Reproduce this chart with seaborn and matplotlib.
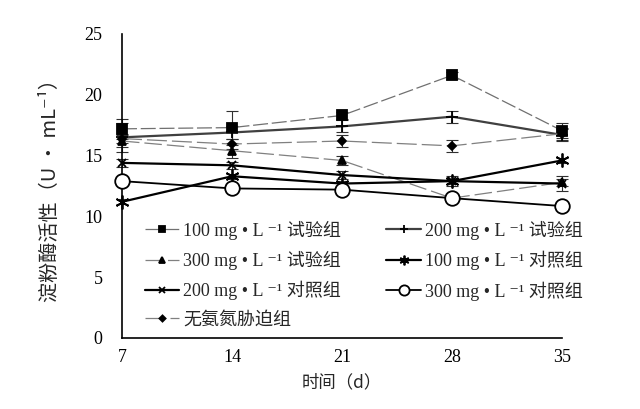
import matplotlib
matplotlib.use("Agg")
import matplotlib.pyplot as plt
import seaborn as sns
import pandas as pd
import numpy as np

sns.set_theme(style="white")
FAM = ['Liberation Serif', 'DejaVu Serif', 'Noto Sans CJK SC']
plt.rcParams['font.family'] = FAM

days = [7, 14, 21, 28, 35]
labels = ["100 mg • L ⁻¹ 试验组", "200 mg • L ⁻¹ 试验组",
          "300 mg • L ⁻¹ 试验组", "100 mg • L ⁻¹ 对照组",
          "200 mg • L ⁻¹ 对照组", "300 mg • L ⁻¹ 对照组",
          "无氨氮胁迫组"]
s100_test = [17.2, 17.3, 18.3, 21.6, 17.05]
s200_test = [16.5, 16.9, 17.4, 18.2, 16.7]
s300_test = [16.2, 15.4, 14.6, 11.5, 12.8]
s100_ctrl = [11.2, 13.3, 12.7, 12.9, 14.6]
s200_ctrl = [14.4, 14.2, 13.4, 12.9, 12.7]
s300_ctrl = [12.9, 12.3, 12.2, 11.5, 10.85]
no_stress = [16.4, 15.95, 16.2, 15.8, 16.8]
e100_test = [0.8, 1.4, 0.3, 0.3, 0.6]
e200_test = [1.2, 0.5, 0.5, 0.5, 0.5]
e300_test = [0.5, 0.6, 0.4, 0.3, 0.3]
e100_ctrl = [0.2, 0.2, 0.2, 0.2, 0.2]
e200_ctrl = [0.3, 0.3, 0.3, 0.4, 0.6]
e300_ctrl = [0.2, 0.2, 0.2, 0.2, 0.2]
e_no = [0.4, 0.4, 0.5, 0.5, 0.5]

series = [s100_test, s200_test, s300_test, s100_ctrl, s200_ctrl, s300_ctrl, no_stress]
errs = [e100_test, e200_test, e300_test, e100_ctrl, e200_ctrl, e300_ctrl, e_no]

styles = [
    dict(marker='s', color='#707070', lw=0.9, ms=7, mfc='black', mec='black', ls=(0, (12, 3))),
    dict(marker='+', color='#404040', lw=1.6, ms=9, mfc='black', mec='black', ls='-'),
    dict(marker='^', color='#808080', lw=0.9, ms=6, mfc='black', mec='black', ls=(0, (14, 4))),
    dict(marker=(6, 2, 0), color='black', lw=1.6, ms=10, mfc='black', mec='black', ls='-'),
    dict(marker='x', color='black', lw=1.6, ms=6, mfc='black', mec='black', ls='-'),
    dict(marker='o', color='black', lw=1.3, ms=10.5, mfc='white', mec='black', ls='-'),
    dict(marker='D', color='#808080', lw=0.9, ms=4.5, mfc='black', mec='black', ls=(0, (16, 4))),
]

rows = []
for lab, vals in zip(labels, series):
    for d, v in zip(days, vals):
        rows.append(dict(day=d, value=v, group=lab))
df = pd.DataFrame(rows)

fig = plt.figure(figsize=(6.4, 4.09), dpi=100)
ax = fig.add_axes([0.1906, 0.1736, 0.6875, 0.7433])

for lab, err, st in zip(labels, errs, styles):
    sub = df[df.group == lab]
    ax.errorbar(sub.day, sub.value, yerr=err, fmt='none', ecolor='#303030',
                elinewidth=0.8, capsize=4, capthick=0.8, clip_on=False, zorder=2)
    sns.lineplot(data=sub, x='day', y='value', ax=ax, label=lab,
                 color=st['color'], lw=st['lw'], linestyle=st['ls'],
                 marker=st['marker'], markersize=st['ms'],
                 markerfacecolor=st['mfc'], markeredgecolor=st['mec'],
                 markeredgewidth=1.3, clip_on=False, zorder=3)

ax.set_xlim(7, 35)
ax.set_ylim(0, 25)
ax.set_xticks(days)
ax.set_yticks([0, 5, 10, 15, 20, 25])
for sp in ['top', 'right']:
    ax.spines[sp].set_visible(False)
for sp in ['left', 'bottom']:
    ax.spines[sp].set_color('black')
    ax.spines[sp].set_linewidth(1.2)
ax.tick_params(axis='both', direction='in', length=5, width=1.2, colors='black',
               labelsize=13, pad=8)
ax.tick_params(axis='y', pad=14)

ax.set_xlabel("时间（d）", fontsize=12.5, family=['Noto Sans CJK SC', 'DejaVu Sans'], labelpad=5)
ax.set_ylabel("淀粉酶活性（U • mL⁻¹）", fontsize=14.5,
              family=['Noto Sans CJK SC', 'DejaVu Sans'], labelpad=17)

handles, labs = ax.get_legend_handles_labels()
order = [0, 2, 4, 6, 1, 3, 5]
leg = ax.legend([handles[i] for i in order], [labs[i] for i in order],
                loc='upper left', bbox_to_anchor=(0.035, 0.41), ncol=2, frameon=False,
                fontsize=13, labelspacing=0.62, handlelength=1.9, columnspacing=2.5,
                handletextpad=0.25, borderaxespad=0, markerscale=0.7)
for t in leg.get_texts():
    t.set_family(FAM)

fig.savefig("out.png", dpi=100)
